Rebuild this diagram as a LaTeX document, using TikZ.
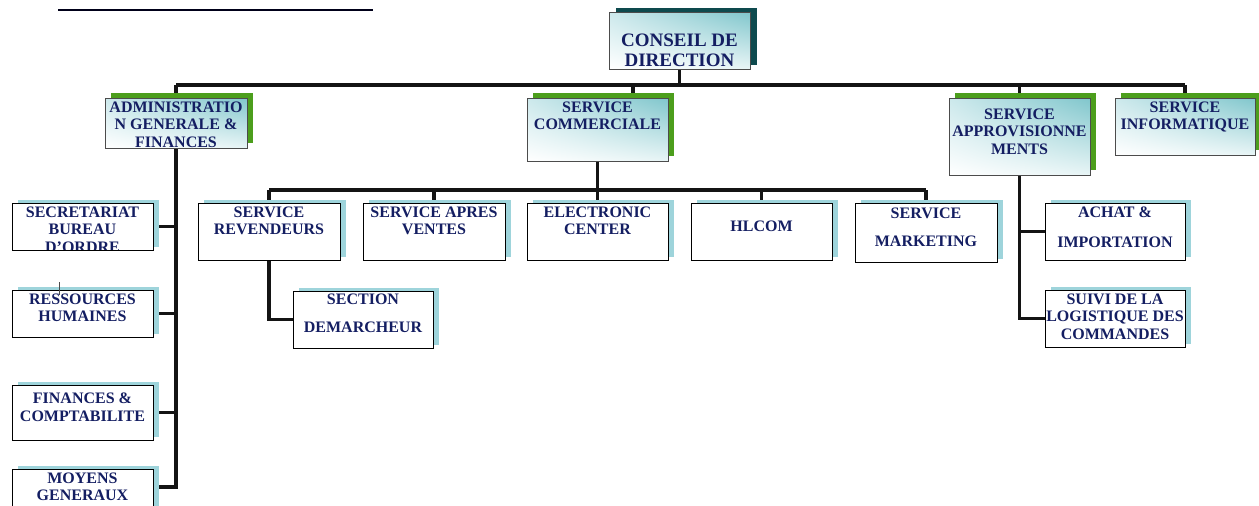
\documentclass[tikz,border=0pt]{standalone}
\usepackage{fontspec}
\setmainfont{Liberation Serif}
\usetikzlibrary{shadings}
\definecolor{navy}{RGB}{20,30,98}
\definecolor{grn}{RGB}{76,158,28}
\definecolor{dteal}{RGB}{14,74,78}
\definecolor{lteal}{RGB}{158,212,219}
\definecolor{gtop}{RGB}{128,198,204}
\definecolor{gmid}{RGB}{205,233,236}
\definecolor{glow}{RGB}{232,245,246}
\definecolor{lnc}{RGB}{20,20,20}
\pgfdeclarelayer{bg}
\pgfdeclarelayer{mid}
\pgfsetlayers{bg,mid,main}
\newcommand\mkbox[6]{\node[#6, minimum width={#4-#2}, minimum height={#5-#3}] (#1) at ({(#2+#4)/2},{(#3+#5)/2}) {};}
\newcommand\mkshadow[3]{\begin{pgfonlayer}{mid}\fill[#2] ([shift={#3}]#1.south west) rectangle ([shift={#3}]#1.north east);\end{pgfonlayer}}
\tikzset{
  lvlone/.style={draw=black!70, line width=0.8pt, inner sep=0pt, outer sep=0pt,
    shade, upper right=gtop, upper left=gmid, lower right=glow, lower left=white},
  lvltwo/.style={draw=black, line width=0.9pt, fill=white, inner sep=0pt, outer sep=0pt},
  conn/.style={draw=lnc, line width=3.2pt, line join=miter},
  txt/.style={anchor=north, inner sep=0pt, align=center, text=navy,
    font=\bfseries\fontsize{16}{17.5}\selectfont},
  toptxt/.style={anchor=north, inner sep=0pt, align=center, text=navy,
    font=\bfseries\fontsize{19}{20}\selectfont}
}
\begin{document}
\begin{tikzpicture}[x=1pt,y=-1pt]
\useasboundingbox (0,0) rectangle (1259,506);
% boxes
\mkbox{top}{609}{12}{750}{69}{lvlone}
\mkbox{adm}{105}{98}{247}{148}{lvlone}
\mkbox{com}{527}{98}{668}{161}{lvlone}
\mkbox{app}{949}{98}{1090}{175}{lvlone}
\mkbox{inf}{1115}{98}{1255}{155}{lvlone}
\mkbox{sec}{12}{203}{153}{250}{lvltwo}
\mkbox{rh}{12}{290}{153}{337}{lvltwo}
\mkbox{fin}{12}{385}{153}{440}{lvltwo}
\mkbox{mg}{12}{469}{153}{525}{lvltwo}
\mkbox{rev}{198}{203}{340}{260}{lvltwo}
\mkbox{apv}{363}{203}{505}{260}{lvltwo}
\mkbox{ec}{527}{203}{668}{260}{lvltwo}
\mkbox{hl}{691}{203}{832}{260}{lvltwo}
\mkbox{mkt}{855}{203}{997}{262}{lvltwo}
\mkbox{sd}{293}{291}{433}{348}{lvltwo}
\mkbox{ach}{1045}{203}{1185}{260}{lvltwo}
\mkbox{sui}{1045}{290}{1185}{347}{lvltwo}
% shadows
\mkshadow{top}{dteal}{(7,-4)}
\foreach \n in {adm,com,app,inf}{\mkshadow{\n}{grn}{(6,-5)}}
\foreach \n in {sec,rh,fin,mg,rev,apv,ec,hl,mkt,sd,ach,sui}{\mkshadow{\n}{lteal}{(6,-3)}}
% connectors
\begin{pgfonlayer}{bg}
\coordinate (busL) at (176,85);
\coordinate (busR) at (1185,85);
\coordinate (admbot) at (176,487);
\coordinate (sb) at (598,190);
\draw[conn] (top.south) -- (top.south |- busL);
\draw[conn] (busL) -- (busR);
\draw[conn] (busL) -- (admbot) -- (mg.east |- admbot);
\foreach \n in {sec,rh,fin}{\draw[conn] (\n.east) -- (\n.east -| busL);}
\draw[conn] ([xshift=35.5pt]com.north) -- ([xshift=35.5pt]com.north |- busL);
\draw[conn] (app.north) -- (app.north |- busL);
\draw[conn] (inf.north) -- (inf.north |- busR);
\draw[conn] (com.south) -- (com.south |- sb);
\draw[conn] (rev.north |- sb) -- (mkt.north |- sb);
\foreach \n in {rev,apv,ec,hl,mkt}{\draw[conn] (\n.north) -- (\n.north |- sb);}
\draw[conn] (rev.south) -- (rev.south |- sd.west) -- (sd.west);
\draw[conn] (app.south) -- (app.south |- sui.west) -- (sui.west);
\draw[conn] (ach.west) -- (ach.west -| app.south);
\end{pgfonlayer}
% decorative line and stray tick
\coordinate (h1) at (58,10);
\coordinate (h2) at (373,10);
\draw[line width=2.2pt, draw=black!90!blue] (h1) -- (h2);
\coordinate (t1) at (59,282);
\coordinate (t2) at (59,295);
\draw[line width=0.6pt, draw=black!70] (t1) -- (t2);
% texts
\node[toptxt] (top-t) at ([yshift=-21.7pt]top.north) {CONSEIL DE\\DIRECTION};
\begin{scope}
\clip ([yshift=0.6pt]adm.south west) rectangle (adm.north east);
\node[txt] (adm-t) at ([yshift=-3.7pt]adm.north) {ADMINISTRATIO\\N GENERALE \&\\FINANCES};
\end{scope}
\node[txt] (com-t) at ([yshift=-3.7pt]com.north) {SERVICE\\COMMERCIALE};
\node[txt] (app-t) at ([yshift=-10.7pt]app.north) {SERVICE\\APPROVISIONNE\\MENTS};
\node[txt] (inf-t) at ([yshift=-3.7pt]inf.north) {SERVICE\\INFORMATIQUE};
\begin{scope}
\clip ([yshift=0.6pt]sec.south west) rectangle (sec.north east);
\node[txt] (sec-t) at ([yshift=-3.7pt]sec.north) {SECRETARIAT\\BUREAU\\D’ORDRE};
\end{scope}
\node[txt] (rh-t) at ([yshift=-3.7pt]rh.north) {RESSOURCES\\HUMAINES};
\node[txt] (fin-t) at ([yshift=-7.7pt]fin.north) {FINANCES \&\\COMPTABILITE};
\node[txt] (mg-t) at ([yshift=-3.7pt]mg.north) {MOYENS\\GENERAUX};
\node[txt] (rev-t) at ([yshift=-3.7pt]rev.north) {SERVICE\\REVENDEURS};
\node[txt] (apv-t) at ([yshift=-3.7pt]apv.north) {SERVICE APRES\\VENTES};
\node[txt] (ec-t) at ([yshift=-3.7pt]ec.north) {ELECTRONIC\\CENTER};
\node[txt] (hl-t) at ([yshift=-17.7pt]hl.north) {HLCOM};
\node[txt] (mkt-t) at ([yshift=-4.7pt]mkt.north) {SERVICE\\[10.5pt]MARKETING};
\node[txt] (sd-t) at ([yshift=-2.7pt]sd.north) {SECTION\\[10.5pt]DEMARCHEUR};
\node[txt] (ach-t) at ([yshift=-3.7pt]ach.north) {ACHAT \&\\[12.5pt]IMPORTATION};
\node[txt] (sui-t) at ([yshift=-3.7pt]sui.north) {SUIVI DE LA\\LOGISTIQUE DES\\COMMANDES};
\end{tikzpicture}
\end{document}
